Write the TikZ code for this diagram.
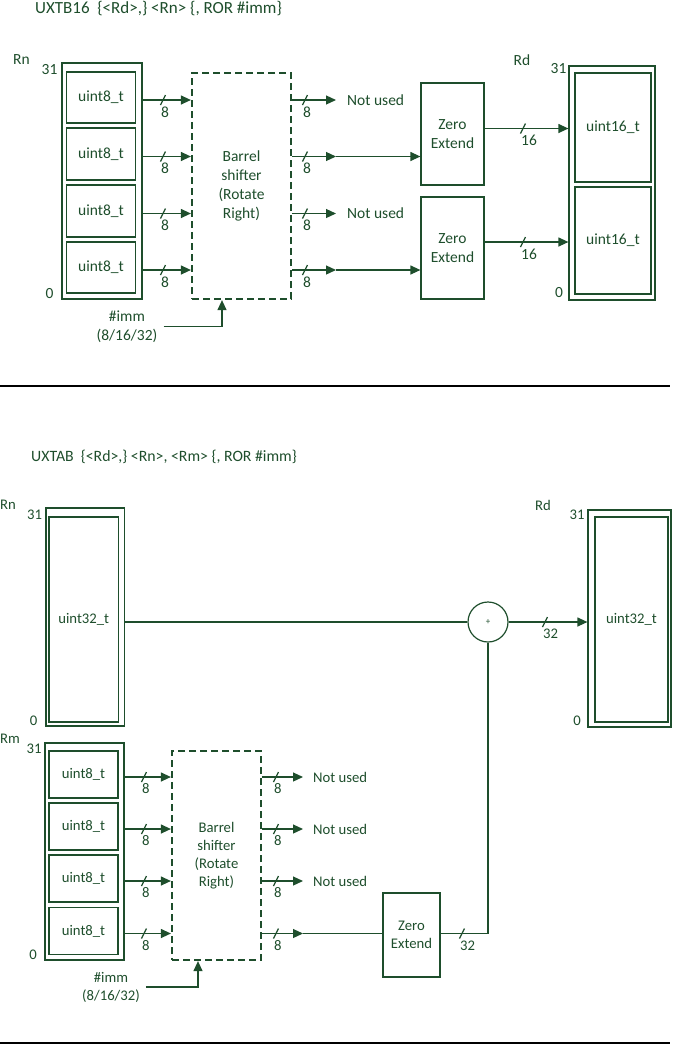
\documentclass[tikz,border=0pt]{standalone}
\usepackage{fontspec}
\setmainfont{Carlito}
\usetikzlibrary{arrows.meta}
\definecolor{dg}{RGB}{30,78,44}
\tikzset{
  every node/.style={text=dg, font=\fontsize{15.5}{19}\selectfont},
  box/.style={draw=dg, line width=1.2pt, inner sep=0pt, align=center},
  shifter/.style={draw=dg, line width=2.2pt, dash pattern=on 7pt off 4pt, inner sep=0pt, align=center},
  wire/.style={draw=dg, line width=1.2pt},
  arr/.style={wire, -{Triangle[length=10pt,width=9pt]}},
  lbl/.style={inner sep=0pt},
  notused/.style={inner xsep=11pt, inner ysep=0pt, anchor=west},
  immtext/.style={inner xsep=6pt, inner ysep=0pt, align=center},
  sumnode/.style={draw=dg, circle, line width=1.2pt, minimum size=40pt, inner sep=0pt, font=\fontsize{9}{9}\selectfont},
  sep/.style={draw=black, line width=1.3pt},
  pics/bus/.style={code={
    \draw[wire] (-2.5,5) -- (2.5,-5);
    \node[lbl, anchor=west] (-l) at (-2,12) {#1};
  }}
}
\begin{document}
\begin{tikzpicture}[x=1pt,y=-1pt]
\path[use as bounding box] (0,0) rectangle (673,1045);

% ================= top section =================
\node[lbl, anchor=west, font=\fontsize{17}{20}\selectfont] (title1) at (35,9) {UXTB16\ \ \{<Rd>,\} <Rn> \{, ROR \#imm\}};

\node (rnlab) at (21.5,60) {Rn};
\node (rn31) at (49.5,70) {31};
\node (rn0) at (49.5,294) {0};
\node[box, minimum width=80pt, minimum height=236pt] (rn) at (102,181) {};
\node[box, minimum width=69.4pt, minimum height=51pt] (u1) at (101,97.5) {uint8\_t};
\node[box, minimum width=69.4pt, minimum height=52pt] (u2) at (101,154) {uint8\_t};
\node[box, minimum width=69.4pt, minimum height=52pt] (u3) at (101,211) {uint8\_t};
\node[box, minimum width=69.4pt, minimum height=51pt] (u4) at (101,267.5) {uint8\_t};
\foreach \i in {1,...,4} {\coordinate (i\i) at ([yshift=-2.5pt]u\i.center);}

\node[shifter, minimum width=99pt, minimum height=226pt] (bs) at (241.5,186) {Barrel\\shifter\\(Rotate\\Right)};

\foreach \i in {1,...,4} {
  \draw[arr] (i\i -| rn.east) -- (i\i -| bs.west);
  \pic (sa\i) at (i\i -| 163,0) {bus=8};
  \pic (sb\i) at (i\i -| 305,0) {bus=8};
}

\node[notused] (nu1) at (i1 -| 336,0) {Not used};
\node[notused] (nu3) at (i3 -| 336,0) {Not used};
\draw[arr] (i1 -| bs.east) -- (nu1.west);
\draw[arr] (i3 -| bs.east) -- (nu3.west);

\node[box, minimum width=63pt, minimum height=102pt] (ze1) at (452.5,134) {Zero\\Extend};
\node[box, minimum width=63pt, minimum height=102pt] (ze2) at (452.5,248) {Zero\\Extend};
\coordinate (m2) at (i2 -| 336,0);
\coordinate (m4) at (i4 -| 336,0);
\draw[arr] (i2 -| bs.east) -- (m2);
\draw[arr] (m2) -- (m2 -| ze1.west);
\draw[arr] (i4 -| bs.east) -- (m4);
\draw[arr] (m4) -- (m4 -| ze2.west);

\node (rdlab) at (522,60) {Rd};
\node (rd31) at (558.5,69) {31};
\node (rd0) at (559,293) {0};
\node[box, minimum width=86pt, minimum height=234pt] (rd) at (612,183) {};
\node[box, minimum width=76pt, minimum height=109pt] (d1) at (613,127.5) {uint16\_t};
\node[box, minimum width=76pt, minimum height=107pt] (d2) at (613,240.5) {uint16\_t};
\coordinate (o1) at ([yshift=-1pt]d1.center);
\coordinate (o2) at ([yshift=-1.5pt]d2.center);
\draw[arr] (o1 -| ze1.east) -- (o1 -| rd.west);
\draw[arr] (o2 -| ze2.east) -- (o2 -| rd.west);
\pic (sc1) at (o1 -| 523,0) {bus=16};
\pic (sc2) at (o2 -| 523,0) {bus=16};

\node[immtext] (imm1) at (127,326.5) {\#imm\\(8/16/32)};
\draw[arr] (imm1.east) -| ([xshift=-19.5pt]bs.south);

\coordinate (sep1l) at (0,386);
\coordinate (sep1r) at (670,386);
\draw[sep] (sep1l) -- (sep1r);

% ================= bottom section =================
\begin{scope}[every node/.append style={font=\fontsize{14.7}{18}\selectfont}]
\node[lbl, anchor=west, font=\fontsize{15.8}{19}\selectfont] (title2) at (31,457) {UXTAB\ \ \{<Rd>,\} <Rn>, <Rm> \{, ROR \#imm\}};

\node (rn2lab) at (8,505) {Rn};
\node (rn231) at (34.5,515) {31};
\node (rn20) at (33.5,721) {0};
\node[box, minimum width=78.5pt, minimum height=218pt] (rn2) at (85.25,617) {};
\node[box, minimum width=69.5pt, minimum height=205pt] (v1) at (83.75,619.5) {uint32\_t};

\node[sumnode] (sum) at (488,622) {+};

\node (rd2lab) at (543,505) {Rd};
\node (rd231) at (577,515) {31};
\node (rd20) at (577,721) {0};
\node[box, minimum width=83pt, minimum height=217pt] (rd2) at (629.5,618.5) {};
\node[box, minimum width=73pt, minimum height=205pt] (w1) at (631.5,619.5) {uint32\_t};

\draw[wire] (sum.west -| rn2.east) -- (sum.west);
\draw[arr] (sum.east) -- (sum.east -| rd2.west);
\pic (sd1) at (545,622) {bus=32};

\node (rmlab) at (10,739) {Rm};
\node (rm31) at (34,749) {31};
\node (rm0) at (33,955) {0};
\node[box, minimum width=79pt, minimum height=217pt] (rm) at (84.5,851.5) {};
\node[box, minimum width=69pt, minimum height=47pt] (r1) at (83.5,774.5) {uint8\_t};
\node[box, minimum width=69pt, minimum height=47pt] (r2) at (83.5,826.5) {uint8\_t};
\node[box, minimum width=69pt, minimum height=47pt] (r3) at (83.5,878.5) {uint8\_t};
\node[box, minimum width=69pt, minimum height=47pt] (r4) at (83.5,931) {uint8\_t};
\foreach \i in {1,...,4} {\coordinate (j\i) at ([yshift=-2.5pt]r\i.center);}

\node[shifter, minimum width=89pt, minimum height=209pt] (bs2) at (216.5,855.5) {Barrel\\shifter\\(Rotate\\Right)};

\foreach \i in {1,...,4} {
  \draw[arr] (j\i -| rm.east) -- (j\i -| bs2.west);
  \pic (se\i) at (j\i -| 144,0) {bus=8};
  \pic (sf\i) at (j\i -| 276,0) {bus=8};
}
\foreach \i in {1,2,3} {
  \node[notused, inner xsep=10pt] (nb\i) at (j\i -| 303,0) {Not used};
  \draw[arr] (j\i -| bs2.east) -- (nb\i.west);
}

\node[box, minimum width=57pt, minimum height=84pt] (ze3) at (411.5,935) {Zero\\Extend};
\coordinate (n4) at (j4 -| 303,0);
\draw[arr] (j4 -| bs2.east) -- (n4);
\draw[wire] (n4) -- (n4 -| ze3.west);
\draw[wire] (j4 -| ze3.east) -| (sum.south);
\pic (sg1) at (j4 -| 462,0) {bus=32};

\node[immtext] (imm2) at (111,987) {\#imm\\(8/16/32)};
\draw[arr] (imm2.east) -| ([xshift=-18.5pt]bs2.south);
\end{scope}

\coordinate (sep2l) at (0,1043);
\coordinate (sep2r) at (670,1043);
\draw[sep] (sep2l) -- (sep2r);
\end{tikzpicture}
\end{document}
